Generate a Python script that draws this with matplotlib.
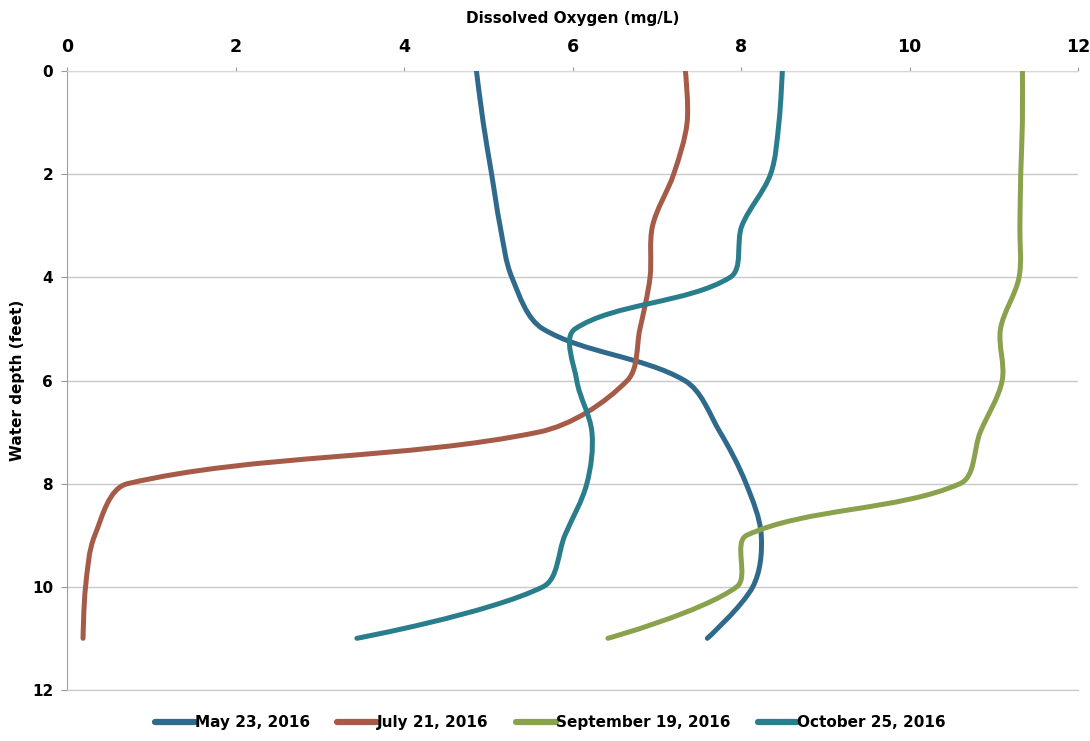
import math
import matplotlib
matplotlib.use("Agg")
import matplotlib.pyplot as plt
from matplotlib.path import Path
from matplotlib.patches import PathPatch
from matplotlib.lines import Line2D

# Dissolved oxygen profiles (mg/L) measured at each foot of depth
depth_ft = [0, 1, 2, 3, 4, 5, 6, 7, 8, 9, 10, 11]
do_may = [4.86, 4.94, 5.04, 5.14, 5.28, 5.65, 7.33, 7.75, 8.06, 8.24, 8.14, 7.60]
do_july = [7.34, 7.36, 7.20, 6.95, 6.92, 6.80, 6.65, 5.60, 0.72, 0.33, 0.22, 0.19]
do_sept = [11.34, 11.34, 11.32, 11.31, 11.30, 11.08, 11.10, 10.84, 10.60, 8.07, 7.95, 6.42]
do_oct = [8.49, 8.45, 8.35, 8.01, 7.87, 6.03, 6.05, 6.23, 6.17, 5.91, 5.65, 3.44]

series_labels = ["May 23, 2016", "July 21, 2016", "September 19, 2016", "October 25, 2016"]
series_colors = ["#2f6a8c", "#a65a48", "#8aa24e", "#2a7d8b"]

x_ticks = [0, 2, 4, 6, 8, 10, 12]
y_ticks = [0, 2, 4, 6, 8, 10, 12]

FONT = ["Liberation Sans Narrow", "DejaVu Sans"]


def smooth_path(ax, xs, ys):
    """Cubic Bezier path through the points; handle lengths are weighted by
    the on-screen length of neighbouring segments to avoid overshoot."""
    pts = list(zip(xs, ys))
    scr = [tuple(ax.transData.transform(p)) for p in pts]
    n = len(pts)

    def seg_len(i, j):
        return math.hypot(scr[j][0] - scr[i][0], scr[j][1] - scr[i][1]) + 1e-9

    verts = [pts[0]]
    codes = [Path.MOVETO]
    for i in range(n - 1):
        i0 = max(i - 1, 0)
        i3 = min(i + 2, n - 1)
        p0, p1, p2, p3 = pts[i0], pts[i], pts[i + 1], pts[i3]
        d01 = seg_len(i0, i) if i0 != i else seg_len(i, i + 1)
        d12 = seg_len(i, i + 1)
        d23 = seg_len(i + 1, i3) if i3 != i + 1 else d12
        w1 = d12 / (d01 + d12) / 3.0 if i0 != i else 0.0
        w2 = d12 / (d12 + d23) / 3.0 if i3 != i + 1 else 0.0
        c1 = (p1[0] + (p2[0] - p0[0]) * w1, p1[1] + (p2[1] - p0[1]) * w1)
        c2 = (p2[0] - (p3[0] - p1[0]) * w2, p2[1] - (p3[1] - p1[1]) * w2)
        verts += [c1, c2, p2]
        codes += [Path.CURVE4, Path.CURVE4, Path.CURVE4]
    return Path(verts, codes)


fig = plt.figure(figsize=(10.9, 7.41), dpi=100)
ax = fig.add_axes([0.0615, 0.069, 0.9275, 0.835])

ax.set_xlim(0, 12)
ax.set_ylim(12, 0)

for vals, color in zip([do_may, do_july, do_sept, do_oct], series_colors):
    patch = PathPatch(smooth_path(ax, vals, depth_ft), facecolor="none", edgecolor=color,
                      lw=3.6, capstyle="round", joinstyle="round", zorder=3)
    ax.add_patch(patch)

ax.xaxis.tick_top()
ax.xaxis.set_label_position("top")
ax.set_xticks(x_ticks)
ax.set_yticks(y_ticks)
ax.set_xticklabels([str(v) for v in x_ticks], fontsize=12.5, fontweight="bold", family=FONT)
ax.set_yticklabels([str(v) for v in y_ticks], fontsize=11, fontweight="bold")
ax.tick_params(axis="x", length=3, color="#999999", pad=8)
ax.tick_params(axis="y", length=4, color="#999999", pad=6)

ax.grid(axis="y", color="#c8c8c8", lw=1.0)
ax.set_axisbelow(True)
ax.spines["right"].set_visible(False)
ax.spines["bottom"].set_color("#c8c8c8")
ax.spines["left"].set_color("#a0a0a0")
ax.spines["top"].set_color("#d8d8d8")

ax.set_xlabel("Dissolved Oxygen (mg/L)", fontsize=11, fontweight="bold", labelpad=11, family=FONT)
ax.set_ylabel("Water depth (feet)", fontsize=11, fontweight="bold", labelpad=5, family=FONT)

handles = [Line2D([], [], color=c, lw=4.5, solid_capstyle="round") for c in series_colors]
fig.legend(handles, series_labels, loc="lower center", bbox_to_anchor=(0.505, -0.004),
           ncol=4, frameon=False, handlelength=2.6, handletextpad=0.0, columnspacing=1.8,
           prop={"family": FONT, "weight": "bold", "size": 11})

fig.savefig("out.png", dpi=100)
